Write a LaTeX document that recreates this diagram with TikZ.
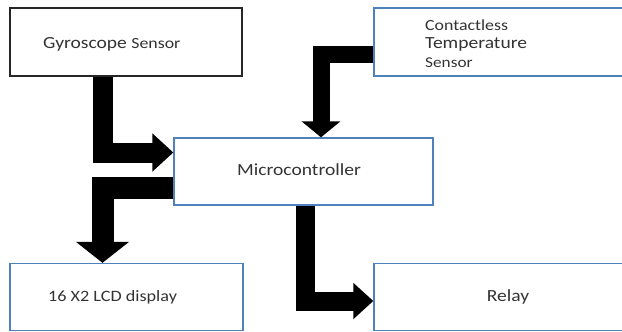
\documentclass[tikz,border=0pt]{standalone}
\usepackage{fontspec}
\setmainfont{Carlito}[FakeStretch=1.15]
\usetikzlibrary{arrows.meta}
\definecolor{boxblue}{HTML}{4F81BD}
\definecolor{txt}{HTML}{333333}
\tikzset{
  blk/.style={draw=boxblue, line width=1.3pt, rectangle, inner sep=0pt},
  lbl/.style={text=txt, inner sep=0pt},
  fat/.style={line width=20pt, line join=miter, -{Triangle[width=37pt,length=21pt]}},
}
\begin{document}
\begin{tikzpicture}[x=1pt,y=-1pt]
\useasboundingbox (0,0) rectangle (622,332);
\node[blk, draw=black!85, minimum width=232pt, minimum height=68pt] (gyro) at (126,42) {};
\node[blk, minimum width=250pt, minimum height=68pt] (temp) at (499,42) {};
\node[blk, minimum width=259pt, minimum height=67pt] (micro) at (303.5,171.5) {};
\node[blk, minimum width=233pt, minimum height=67pt] (lcd) at (126.5,297) {};
\node[blk, minimum width=250pt, minimum height=67pt] (relay) at (499,297) {};

\node[lbl, anchor=west] (gyrot) at (43,44) {\fontsize{17}{18}\selectfont Gyroscope \fontsize{15.5}{16}\selectfont Sensor};
\node[lbl, anchor=west] (tempt1) at (425,25) {\fontsize{15.5}{18}\selectfont Contactless};
\node[lbl, anchor=west] (tempt2) at (425,44) {\fontsize{17}{18}\selectfont Temperature};
\node[lbl, anchor=west] (tempt3) at (425,63) {\fontsize{15}{18}\selectfont Sensor};
\node[lbl, anchor=west] (microt) at (237,170) {\fontsize{17}{19}\selectfont Microcontroller};
\node[lbl, anchor=west] (lcdt) at (48,297) {\fontsize{15.8}{16}\selectfont 16 X2 LCD display};
\node[lbl] (relayt) at (508,297) {\fontsize{17}{18}\selectfont Relay};

\draw[fat] ([xshift=-23.5pt]gyro.south) |- ([yshift=19pt]micro.west);
\draw[fat, line width=17pt, -{Triangle[width=38pt,length=16pt]}] ([yshift=-12.5pt]temp.west) -| ([xshift=17.5pt]micro.north);
\draw[fat, line width=22pt, -{Triangle[width=52pt,length=21pt]}] ([yshift=-16pt]micro.west) -| ([xshift=-24pt]lcd.north);
\draw[fat, line width=19pt, -{Triangle[width=35pt,length=20pt]}] ([xshift=1.5pt]micro.south) |- ([yshift=-4pt]relay.west);
\end{tikzpicture}
\end{document}
